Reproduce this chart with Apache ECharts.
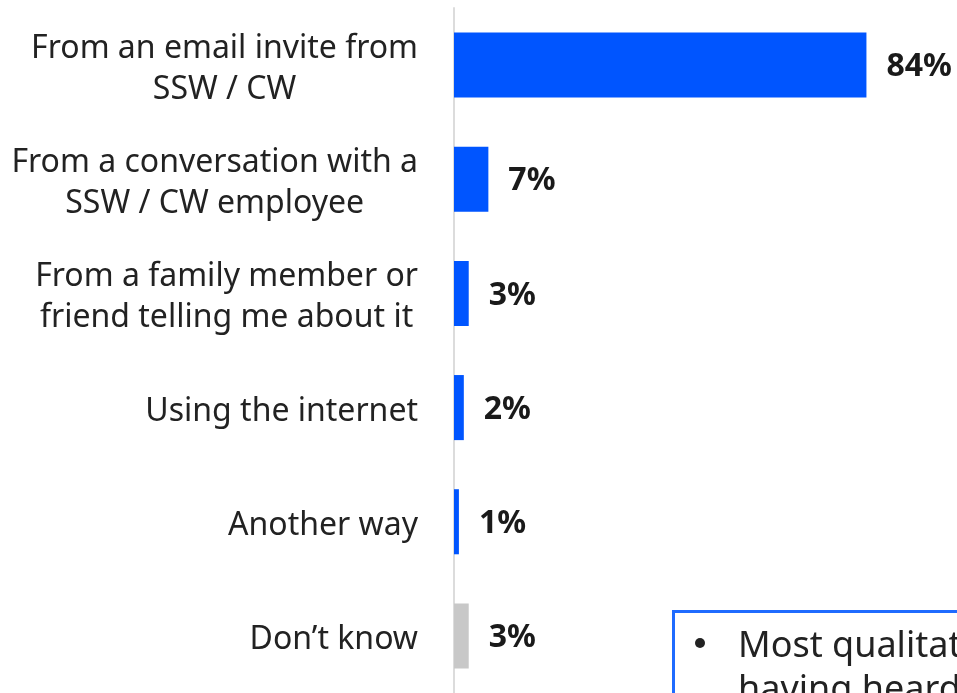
<!DOCTYPE html>
<html>
<head>
<meta charset="utf-8">
<script src="https://cdn.jsdelivr.net/npm/echarts@6/dist/echarts.min.js"></script>
<style>
  html, body { margin: 0; padding: 0; background: #ffffff; }
  #chart { width: 957px; height: 693px; }
</style>
</head>
<body>
<div id="chart"></div>
<script>
// How respondents heard about the survey (% of respondents)
const categories = [
  'From an email invite from\nSSW / CW',
  'From a conversation with a\nSSW / CW employee',
  'From a family member or\nfriend telling me about it',
  'Using the internet',
  'Another way',
  'Don\u2019t know'
];
const shares = [84, 7, 3, 2, 1, 3];
const barColors = ['#0055FF', '#0055FF', '#0055FF', '#0055FF', '#0055FF', '#C8C8C8'];

const noteLines = [
  'Most qualitative respondents recalled',
  'having heard about the survey by email'
];

const chart = echarts.init(document.getElementById('chart'), null, { renderer: 'canvas' });

// Each wrapped label line is centred inside its right-aligned block
const labelFormatter = (name) =>
  name.split('\n').map((line) => '{c|' + line + '}').join('\n');

chart.setOption({
  backgroundColor: '#ffffff',
  animation: false,
  grid: { left: 454, top: 8, width: 491, height: 688 },
  xAxis: {
    type: 'value',
    min: 0,
    max: 100,
    show: false
  },
  yAxis: {
    type: 'category',
    data: categories,
    inverse: true,
    axisLine: { show: true, lineStyle: { color: '#DCDCDC', width: 2 } },
    axisTick: { show: false },
    axisLabel: {
      margin: 36,
      align: 'right',
      padding: [8, 0, 0, 0],
      formatter: labelFormatter,
      rich: {
        c: {
          align: 'center',
          fontFamily: 'Noto Sans',
          fontSize: 32,
          lineHeight: 41,
          color: '#222222'
        }
      }
    }
  },
  series: [{
    type: 'bar',
    data: shares.map((v, i) => ({ value: v, itemStyle: { color: barColors[i] } })),
    barCategoryGap: '43%',
    label: {
      show: true,
      position: 'right',
      distance: 20,
      offset: [0, 2],
      formatter: '{c}%',
      fontFamily: 'Noto Sans',
      fontWeight: 'bold',
      fontSize: 32,
      color: '#1A1A1A'
    }
  }],
  graphic: [
    {
      type: 'rect',
      left: 672,
      top: 610,
      shape: { width: 400, height: 200 },
      style: { fill: '#ffffff', stroke: '#1F6BFF', lineWidth: 3 },
      z: 10
    },
    {
      type: 'circle',
      shape: { cx: 700, cy: 643, r: 5 },
      style: { fill: '#222222' },
      z: 11
    },
    {
      type: 'text',
      left: 738,
      top: 625,
      style: {
        text: noteLines.join('\n'),
        font: '36px "Noto Sans"',
        lineHeight: 44,
        fill: '#222222'
      },
      z: 11
    }
  ]
});
</script>
</body>
</html>
